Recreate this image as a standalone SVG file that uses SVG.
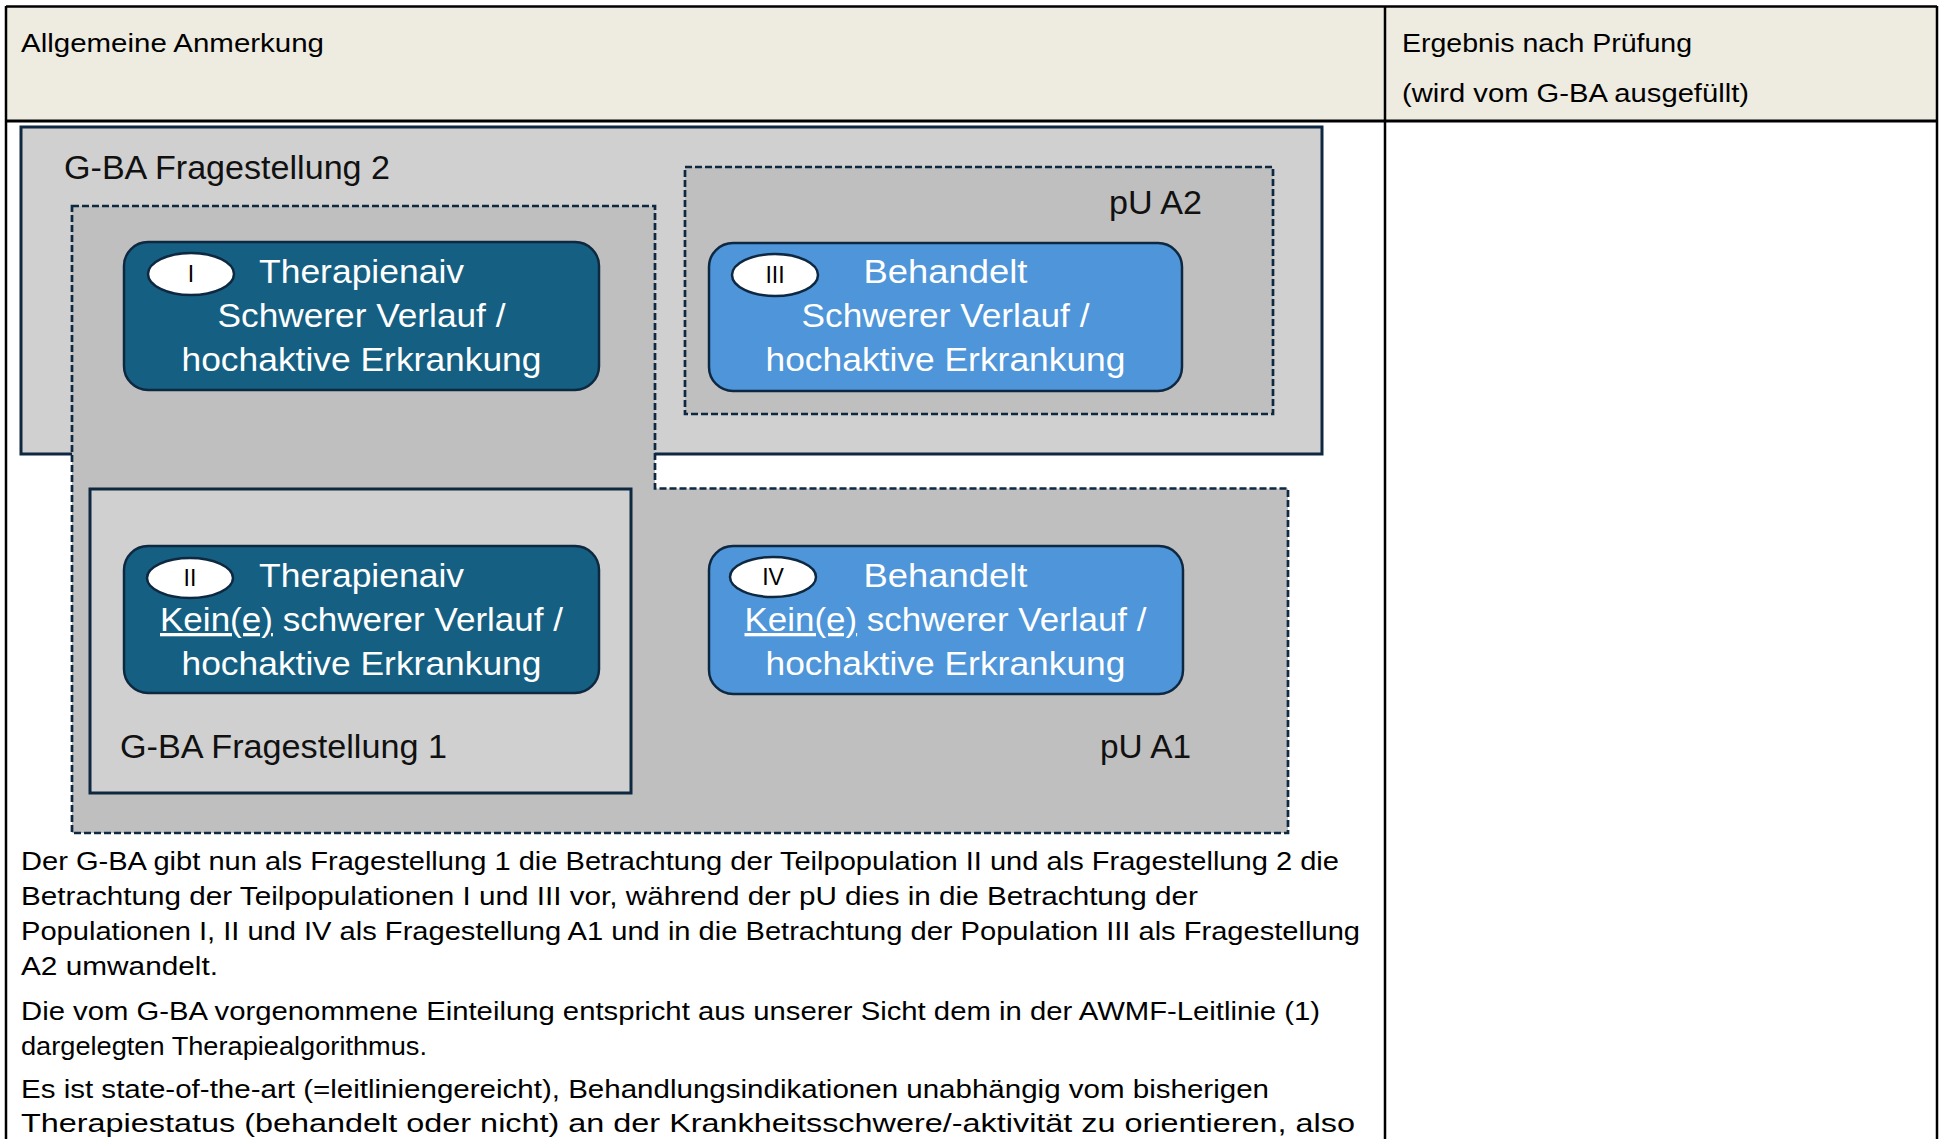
<svg xmlns="http://www.w3.org/2000/svg" width="1941" height="1139" viewBox="0 0 1941 1139">
<style>
.hdr{font-family:"Liberation Sans",Arial,sans-serif;font-size:25px;fill:#000}
.body{font-family:"Liberation Sans",Arial,sans-serif;font-size:26px;fill:#000}
.lbl{font-family:"Liberation Sans",Arial,sans-serif;font-size:33px;fill:#111}
.nt{font-family:"Liberation Sans",Arial,sans-serif;font-size:33px;fill:#ffffff;text-anchor:middle}
.num{font-family:"Liberation Sans",Arial,sans-serif;font-size:23px;fill:#000;text-anchor:middle}
.grid{stroke:#000;stroke-width:2.5;fill:none}
.solidbox{fill:#d0d0d0;stroke:#0e2841;stroke-width:3}
.dashbox{fill:#bfbfbf;stroke:#0e2841;stroke-width:2.7;stroke-dasharray:7 3}
.dark{fill:#156082;stroke:#0e2841;stroke-width:2.5}
.light{fill:#4e95d9;stroke:#0e2841;stroke-width:2.5}
.ell{fill:#ffffff;stroke:#0e2841;stroke-width:2.5}
.ul{text-decoration:underline}
</style>
<rect x="0" y="0" width="1941" height="1139" fill="#ffffff"/>
<g id="table">
<rect x="6" y="6" width="1931" height="115" fill="#eeebe0"/>
<line class="grid" x1="6" y1="6.5" x2="1937" y2="6.5"/>
<line class="grid" x1="6" y1="121" x2="1937" y2="121" style="stroke-width:3"/>
<line class="grid" x1="6" y1="6" x2="6" y2="1139"/>
<line class="grid" x1="1385" y1="6" x2="1385" y2="1139"/>
<line class="grid" x1="1937" y1="6" x2="1937" y2="1139"/>
<text class="hdr" x="21" y="52" textLength="303" lengthAdjust="spacingAndGlyphs">Allgemeine Anmerkung</text>
<text class="hdr" x="1402" y="52" textLength="290" lengthAdjust="spacingAndGlyphs">Ergebnis nach Prüfung</text>
<text class="hdr" x="1402" y="102" textLength="347" lengthAdjust="spacingAndGlyphs">(wird vom G-BA ausgefüllt)</text>
</g>
<g id="gba2">
<rect class="solidbox" x="21" y="127" width="1301" height="327"/>
<text class="lbl" x="64" y="179" textLength="326" lengthAdjust="spacingAndGlyphs">G-BA Fragestellung 2</text>
</g>
<g id="pua1">
<path class="dashbox" d="M72,206 H655 V488.5 H1288 V833 H72 Z"/>
<text class="lbl" x="1100" y="758" textLength="91" lengthAdjust="spacingAndGlyphs">pU A1</text>
</g>
<g id="pua2">
<rect class="dashbox" x="685" y="167" width="588" height="247"/>
<text class="lbl" x="1109" y="214" textLength="93" lengthAdjust="spacingAndGlyphs">pU A2</text>
</g>
<g id="gba1">
<rect class="solidbox" x="90" y="489" width="541" height="304"/>
<text class="lbl" x="120" y="758" textLength="327" lengthAdjust="spacingAndGlyphs">G-BA Fragestellung 1</text>
</g>
<g id="nodeI">
<rect class="dark" x="124" y="242" width="475" height="148" rx="24"/>
<ellipse class="ell" cx="191" cy="274" rx="43" ry="21"/>
<text class="num" x="191" y="282">I</text>
<text class="nt" x="361.5" y="283" textLength="205" lengthAdjust="spacingAndGlyphs">Therapienaiv</text>
<text class="nt" x="361.5" y="327" textLength="288" lengthAdjust="spacingAndGlyphs">Schwerer Verlauf /</text>
<text class="nt" x="361.5" y="371" textLength="360" lengthAdjust="spacingAndGlyphs">hochaktive Erkrankung</text>
</g>
<g id="nodeIII">
<rect class="light" x="709" y="243" width="473" height="148" rx="24"/>
<ellipse class="ell" cx="775" cy="275" rx="43" ry="21"/>
<text class="num" x="775" y="283">III</text>
<text class="nt" x="945.5" y="283" textLength="164" lengthAdjust="spacingAndGlyphs">Behandelt</text>
<text class="nt" x="945.5" y="327" textLength="288" lengthAdjust="spacingAndGlyphs">Schwerer Verlauf /</text>
<text class="nt" x="945.5" y="371" textLength="360" lengthAdjust="spacingAndGlyphs">hochaktive Erkrankung</text>
</g>
<g id="nodeII">
<rect class="dark" x="124" y="546" width="475" height="147" rx="24"/>
<ellipse class="ell" cx="190" cy="578" rx="43" ry="20"/>
<text class="num" x="190" y="586">II</text>
<text class="nt" x="361.5" y="587" textLength="205" lengthAdjust="spacingAndGlyphs">Therapienaiv</text>
<text class="nt" x="361.5" y="631" textLength="403" lengthAdjust="spacingAndGlyphs"><tspan class="ul">Kein(e)</tspan> schwerer Verlauf /</text>
<text class="nt" x="361.5" y="675" textLength="360" lengthAdjust="spacingAndGlyphs">hochaktive Erkrankung</text>
</g>
<g id="nodeIV">
<rect class="light" x="709" y="546" width="474" height="148" rx="24"/>
<ellipse class="ell" cx="773" cy="577" rx="43" ry="20"/>
<text class="num" x="773" y="585">IV</text>
<text class="nt" x="945.5" y="587" textLength="164" lengthAdjust="spacingAndGlyphs">Behandelt</text>
<text class="nt" x="945.5" y="631" textLength="402" lengthAdjust="spacingAndGlyphs"><tspan class="ul">Kein(e)</tspan> schwerer Verlauf /</text>
<text class="nt" x="945.5" y="675" textLength="360" lengthAdjust="spacingAndGlyphs">hochaktive Erkrankung</text>
</g>
<g id="connectors"></g>
<g id="bodytext">
<text class="body" x="21" y="870" textLength="1318" lengthAdjust="spacingAndGlyphs">Der G-BA gibt nun als Fragestellung 1 die Betrachtung der Teilpopulation II und als Fragestellung 2 die</text>
<text class="body" x="21" y="905" textLength="1177" lengthAdjust="spacingAndGlyphs">Betrachtung der Teilpopulationen I und III vor, während der pU dies in die Betrachtung der</text>
<text class="body" x="21" y="940" textLength="1339" lengthAdjust="spacingAndGlyphs">Populationen I, II und IV als Fragestellung A1 und in die Betrachtung der Population III als Fragestellung</text>
<text class="body" x="21" y="975" textLength="197" lengthAdjust="spacingAndGlyphs">A2 umwandelt.</text>
<text class="body" x="21" y="1020" textLength="1299" lengthAdjust="spacingAndGlyphs">Die vom G-BA vorgenommene Einteilung entspricht aus unserer Sicht dem in der AWMF-Leitlinie (1)</text>
<text class="body" x="21" y="1055" textLength="406" lengthAdjust="spacingAndGlyphs">dargelegten Therapiealgorithmus.</text>
<text class="body" x="21" y="1098" textLength="1248" lengthAdjust="spacingAndGlyphs">Es ist state-of-the-art (=leitliniengereicht), Behandlungsindikationen unabhängig vom bisherigen</text>
<text class="body" x="21" y="1132" textLength="1334" lengthAdjust="spacingAndGlyphs">Therapiestatus (behandelt oder nicht) an der Krankheitsschwere/-aktivität zu orientieren, also</text>
</g>
</svg>
